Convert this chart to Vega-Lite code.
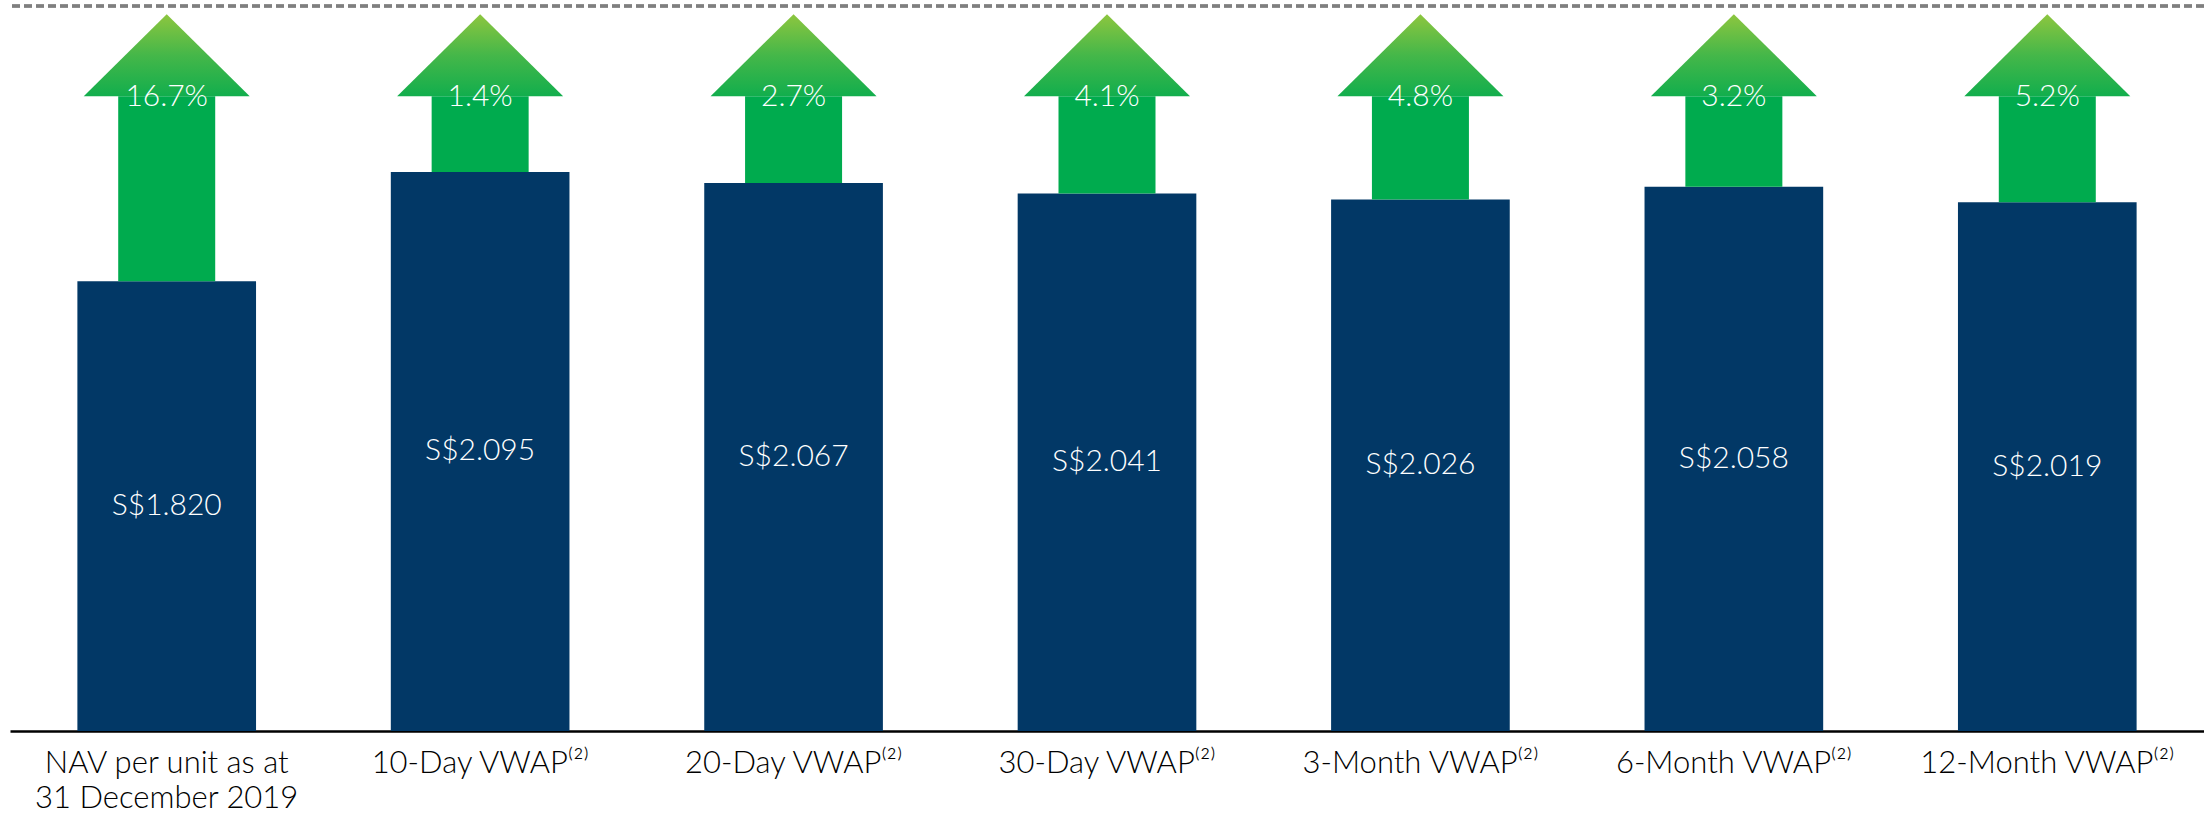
{
  "$schema": "https://vega.github.io/schema/vega-lite/v6.json",
  "width": 2194,
  "height": 725,
  "autosize": "none",
  "padding": {"left": 10, "top": 6, "right": 0, "bottom": 82},
  "background": "white",
  "config": {
    "view": {"stroke": null},
    "font": "Lato",
    "locale": {"number": {"decimal": ".", "thousands": ",", "grouping": [3], "currency": ["S$", ""]}}
  },
  "data": {
    "values": [
      {"cat": "NAV per unit as at 31 December 2019", "value": 1.820, "pct": 0.167},
      {"cat": "10-Day VWAP⁽²⁾", "value": 2.095, "pct": 0.014},
      {"cat": "20-Day VWAP⁽²⁾", "value": 2.067, "pct": 0.027},
      {"cat": "30-Day VWAP⁽²⁾", "value": 2.041, "pct": 0.041},
      {"cat": "3-Month VWAP⁽²⁾", "value": 2.026, "pct": 0.048},
      {"cat": "6-Month VWAP⁽²⁾", "value": 2.058, "pct": 0.032},
      {"cat": "12-Month VWAP⁽²⁾", "value": 2.019, "pct": 0.052}
    ]
  },
  "encoding": {
    "x": {
      "field": "cat", "type": "nominal", "sort": null,
      "scale": {"paddingInner": 0.43, "paddingOuter": 0.215},
      "axis": {
        "title": null, "labelAngle": 0, "ticks": false,
        "domainColor": "#000000", "domainWidth": 2.5,
        "labelFont": "Lato", "labelFontSize": 31, "labelFontWeight": 300, "labelColor": "#000000",
        "labelPadding": 17, "labelBaseline": "top", "labelLineHeight": 35,
        "labelLimit": 400,
        "labelExpr": "datum.label == 'NAV per unit as at 31 December 2019' ? ['NAV per unit as at', '31 December 2019'] : datum.label"
      }
    }
  },
  "layer": [
    {
      "encoding": {
        "y": {"type": "quantitative", "scale": {"domain": [0.69, 2.512], "zero": false, "nice": false}, "axis": null}
      },
      "layer": [
        {
          "mark": {"type": "rule", "stroke": "#7F7F7F", "strokeWidth": 2.5, "strokeDash": [8, 4]},
          "encoding": {"x": null, "y": {"datum": 2.512, "type": "quantitative", "axis": null}}
        },
        {
          "mark": {"type": "bar", "color": "#023866"},
          "encoding": {
            "y": {"field": "value", "type": "quantitative", "axis": null},
            "y2": {"datum": 0.69}
          }
        },
        {
          "mark": {"type": "bar", "color": "#00AB4E", "width": 97},
          "encoding": {
            "y": {"field": "value", "type": "quantitative", "axis": null},
            "y2": {"datum": 2.2855}
          }
        },
        {
          "mark": {
            "type": "point", "shape": "M-1,0.494L1,0.494L0,-0.494Z", "size": 27556,
            "filled": true, "opacity": 1, "strokeWidth": 0,
            "fill": {"gradient": "linear", "x1": 0, "y1": 0, "x2": 0, "y2": 1,
              "stops": [{"offset": 0, "color": "#8DC63F"}, {"offset": 0.5, "color": "#45B749"}, {"offset": 1, "color": "#12AE4D"}]}
          },
          "encoding": {"y": {"datum": 2.3885, "type": "quantitative", "axis": null}}
        },
        {
          "mark": {"type": "text", "color": "white", "font": "Lato", "fontSize": 30, "fontWeight": 300, "baseline": "middle", "align": "center"},
          "encoding": {
            "y": {"datum": 2.283, "type": "quantitative", "axis": null},
            "text": {"field": "pct", "type": "quantitative", "format": ".1%"}
          }
        }
      ]
    },
    {
      "mark": {"type": "text", "color": "white", "font": "Lato", "fontSize": 30, "fontWeight": 300, "baseline": "middle", "align": "center"},
      "encoding": {
        "y": {"field": "value", "type": "quantitative", "scale": {"domain": [0.69, 4.3333], "zero": false, "nice": false}, "axis": null},
        "text": {"field": "value", "type": "quantitative", "format": "$.3f"}
      }
    }
  ],
  "resolve": {"scale": {"y": "independent"}}
}
